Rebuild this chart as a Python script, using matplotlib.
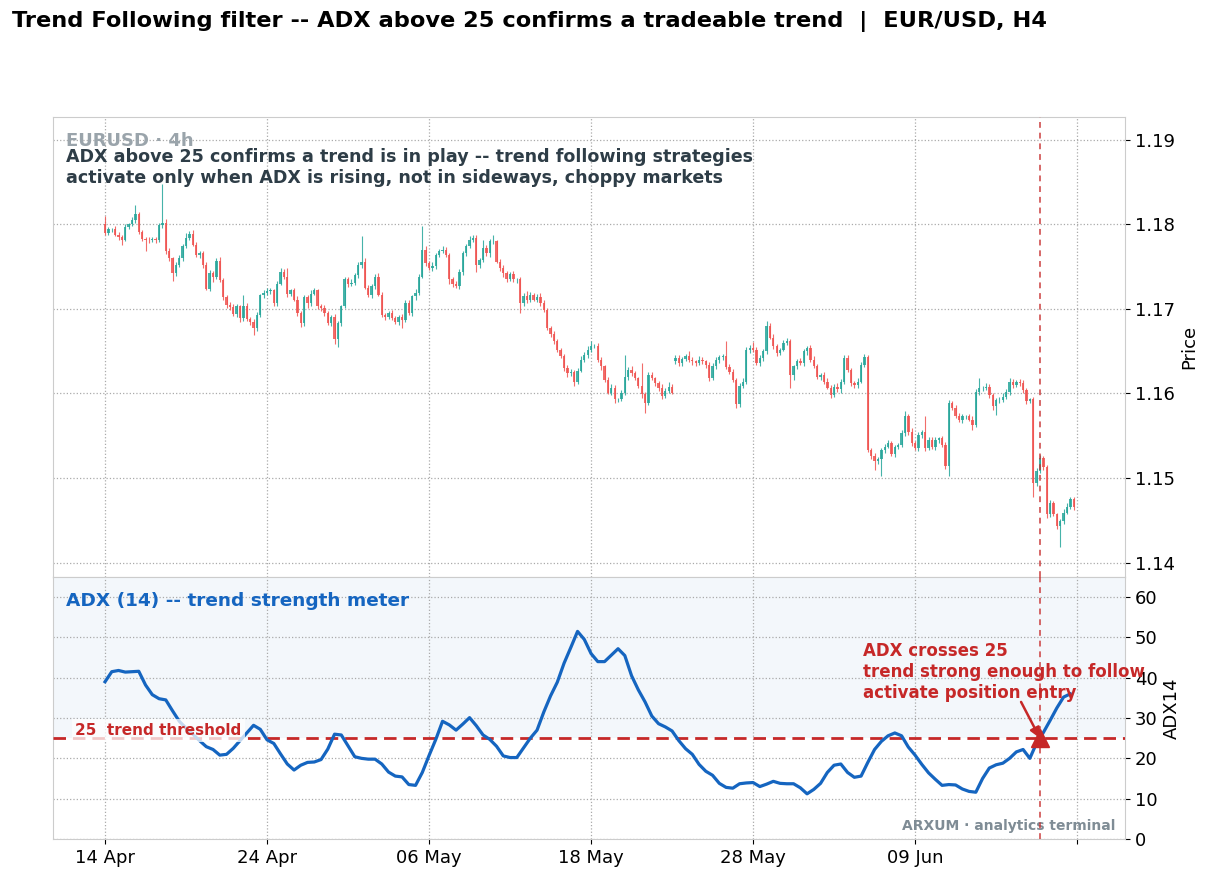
import numpy as np
import matplotlib
matplotlib.use("Agg")
import matplotlib.pyplot as plt

# EUR/USD H4 closes, pips above 1.1000, one per bar
closes = [
    790, 794, 794, 788, 785, 782, 797, 800, 805, 812, 791, 783, 782, 781, 783, 781, 799, 802, 769, 760, 742, 752, 760, 774,
    784, 789, 776, 764, 766, 752, 724, 743, 738, 757, 734, 714, 705, 702, 694, 703, 689, 704, 688, 684, 677, 693, 716, 719,
    721, 722, 707, 730, 744, 738, 718, 722, 711, 695, 683, 714, 707, 718, 722, 703, 701, 695, 683, 690, 665, 683, 703, 735,
    729, 731, 740, 752, 756, 725, 717, 727, 738, 717, 693, 691, 695, 689, 685, 691, 687, 707, 695, 715, 719, 738, 770, 754,
    748, 751, 764, 768, 770, 764, 735, 729, 727, 744, 766, 774, 782, 784, 752, 758, 772, 766, 780, 780, 756, 748, 742, 735,
    741, 735, 735, 707, 715, 711, 717, 711, 714, 707, 699, 677, 670, 662, 652, 644, 630, 624, 626, 614, 627, 640, 646, 652,
    656, 656, 640, 632, 616, 601, 607, 593, 593, 601, 620, 628, 624, 618, 609, 599, 589, 622, 618, 612, 607, 597, 603, 608,
    601, 642, 636, 641, 644, 640, 638, 636, 640, 638, 634, 618, 632, 640, 643, 644, 631, 626, 616, 587, 609, 614, 652, 654,
    652, 636, 642, 650, 680, 666, 656, 648, 652, 660, 662, 622, 632, 638, 636, 650, 654, 640, 632, 620, 622, 614, 607, 598,
    608, 605, 614, 642, 628, 612, 610, 614, 634, 643, 533, 526, 520, 522, 533, 537, 541, 529, 537, 539, 553, 573, 555, 541,
    535, 551, 555, 535, 545, 537, 545, 547, 539, 514, 589, 583, 573, 569, 573, 573, 569, 563, 602, 606, 606, 608, 598, 585,
    592, 592, 596, 602, 614, 610, 614, 612, 604, 591, 593, 494, 508, 524, 513, 457, 470, 457, 443, 449, 459, 466, 475, 466,
]
first_open = 801
gap_opens = {169: 638}  # weekend gap, open is not the previous close

up_wick = [
    9, 3, 2, 4, 3, 2, 3, 2, 4, 11, 3, 2, 2, 3, 2, 2, 3, 46, 4, 3, 2, 3, 4, 3,
    6, 3, 4, 3, 2, 3, 4, 3, 2, 3, 4, 3, 2, 3, 4, 3, 2, 12, 3, 2, 4, 3, 2, 3,
    4, 3, 2, 3, 4, 3, 10, 2, 3, 4, 3, 2, 3, 4, 3, 2, 3, 4, 2, 3, 4, 3, 2, 3,
    3, 4, 2, 3, 30, 4, 3, 2, 3, 4, 3, 2, 3, 4, 3, 2, 3, 4, 3, 2, 4, 3, 28, 4,
    3, 4, 2, 3, 4, 3, 2, 3, 4, 3, 2, 3, 4, 3, 3, 2, 9, 4, 3, 8, 2, 3, 4, 3,
    3, 4, 2, 3, 4, 6, 3, 2, 4, 5, 3, 2, 3, 4, 3, 2, 3, 4, 3, 2, 3, 4, 3, 4,
    6, 3, 4, 3, 2, 3, 4, 3, 2, 3, 26, 3, 4, 3, 2, 27, 3, 4, 3, 2, 3, 4, 3, 5,
    3, 4, 3, 2, 3, 6, 3, 2, 4, 3, 2, 3, 4, 3, 2, 3, 18, 4, 3, 2, 3, 4, 3, 3,
    7, 3, 4, 3, 6, 3, 4, 3, 2, 3, 4, 3, 2, 3, 4, 3, 2, 3, 4, 3, 2, 3, 4, 3,
    3, 4, 3, 4, 3, 2, 3, 4, 3, 4, 2, 3, 4, 3, 2, 3, 4, 3, 2, 3, 4, 6, 3, 4,
    3, 4, 2, 18, 3, 4, 3, 2, 3, 4, 3, 2, 3, 4, 3, 2, 3, 4, 3, 12, 3, 4, 3, 2,
    3, 4, 4, 3, 4, 3, 2, 3, 4, 3, 2, 3, 4, 3, 2, 3, 4, 3, 2, 3, 4, 5, 3, 2,
]
down_wick = [
    3, 2, 3, 2, 4, 6, 2, 3, 2, 3, 2, 3, 14, 3, 2, 3, 2, 3, 4, 3, 9, 3, 2, 3,
    2, 3, 2, 3, 4, 3, 2, 3, 6, 3, 2, 3, 4, 3, 2, 3, 4, 3, 2, 3, 8, 3, 2, 3,
    2, 3, 4, 3, 2, 3, 4, 3, 2, 3, 4, 3, 6, 3, 2, 3, 4, 3, 2, 3, 6, 10, 3, 2,
    3, 2, 3, 4, 3, 2, 3, 4, 3, 2, 3, 4, 3, 2, 3, 4, 10, 3, 2, 3, 4, 3, 2, 3,
    2, 3, 4, 3, 2, 3, 6, 3, 2, 3, 4, 3, 2, 3, 8, 3, 2, 3, 4, 3, 2, 3, 4, 3,
    2, 3, 4, 12, 3, 4, 3, 2, 3, 4, 3, 2, 3, 4, 3, 2, 3, 4, 3, 5, 3, 2, 3, 4,
    3, 2, 3, 4, 3, 2, 3, 4, 3, 2, 3, 4, 3, 2, 3, 4, 12, 3, 2, 3, 4, 3, 2, 3,
    2, 3, 4, 3, 2, 3, 4, 3, 2, 3, 4, 3, 2, 3, 4, 3, 2, 3, 3, 4, 3, 2, 3, 4,
    3, 2, 3, 4, 3, 2, 3, 4, 3, 2, 3, 15, 6, 3, 2, 3, 4, 3, 2, 3, 4, 3, 2, 3,
    2, 3, 4, 3, 2, 3, 4, 3, 2, 3, 2, 3, 10, 3, 20, 3, 2, 3, 4, 3, 2, 3, 4, 3,
    2, 3, 4, 3, 2, 3, 4, 3, 2, 3, 12, 3, 2, 3, 4, 3, 2, 6, 3, 4, 3, 2, 3, 4,
    10, 3, 2, 3, 4, 3, 2, 3, 4, 3, 2, 16, 3, 2, 3, 4, 3, 2, 3, 24, 3, 2, 3, 4,
]

# ADX(14), read every second bar
adx_step = 2
adx_values = [
    39.0, 41.5, 41.8, 41.4, 41.5, 41.6, 38.2, 35.8, 34.8, 34.5, 31.8, 29.2,
    27.5, 26.0, 24.4, 22.9, 22.2, 20.8, 21.0, 22.5, 24.4, 26.3, 28.2, 27.2,
    24.6, 23.7, 21.1, 18.6, 17.1, 18.3, 19.0, 19.1, 19.7, 22.3, 26.0, 25.8,
    23.1, 20.4, 20.0, 19.8, 19.8, 18.6, 16.6, 15.6, 15.4, 13.5, 13.3, 16.5,
    20.7, 24.7, 29.2, 28.3, 27.0, 28.5, 30.1, 28.1, 25.8, 24.7, 23.0, 20.6,
    20.2, 20.2, 22.6, 25.0, 27.0, 31.5, 35.5, 38.9, 43.6, 47.5, 51.5, 49.5,
    46.0, 44.0, 44.0, 45.6, 47.2, 45.5, 40.5, 37.0, 34.0, 30.5, 28.6, 27.8,
    26.8, 24.4, 22.4, 21.0, 18.5, 16.8, 15.8, 13.8, 12.8, 12.6, 13.7, 13.9,
    14.0, 13.0, 13.6, 14.3, 13.8, 13.7, 13.7, 12.7, 11.2, 12.3, 13.8, 16.5,
    18.3, 18.6, 16.5, 15.3, 15.6, 19.0, 22.2, 24.2, 25.6, 26.3, 25.6, 22.8,
    20.8, 18.5, 16.4, 14.8, 13.3, 13.5, 13.4, 12.4, 11.8, 11.6, 15.0, 17.6,
    18.4, 18.8, 20.0, 21.6, 22.2, 20.0, 23.8, 26.4, 29.4, 32.5, 35.2, 36.0,
]

tick_bars = [0, 48, 96, 144, 192, 240, 288]
tick_labels = ["14 Apr", "24 Apr", "06 May", "18 May", "28 May", "09 Jun", ""]
entry_bar = 277
threshold = 25

UP, DOWN = "#26a69a", "#ef5350"
RED = "#c62828"
BLUE = "#1565c0"

c = 1.1 + np.array(closes) / 1e4
o = np.r_[first_open, closes[:-1]].astype(float)
for k, v in gap_opens.items():
    o[k] = v
o = 1.1 + o / 1e4
hi = np.maximum(o, c) + np.array(up_wick) / 1e4
lo = np.minimum(o, c) - np.array(down_wick) / 1e4
x = np.arange(len(c))
rising = c >= o
cols = np.where(rising, UP, DOWN)

fig = plt.figure(figsize=(12.14, 8.81), dpi=100)
ax = fig.add_axes([0.0437, 0.3451, 0.8830, 0.5221])
ax2 = fig.add_axes([0.0437, 0.0477, 0.8830, 0.2974], sharex=ax)

# price panel
ax.vlines(x, lo, hi, colors=cols, lw=0.8, alpha=0.85, zorder=2)
body = np.maximum(np.abs(c - o), 0.00004)
ax.bar(x, body, bottom=np.minimum(o, c), width=0.7, color=cols, alpha=0.85, lw=0, zorder=3)
ax.set_ylim(1.1383, 1.1927)
ax.set_yticks([1.14, 1.15, 1.16, 1.17, 1.18, 1.19])
ax.set_yticklabels([f"{v:.2f}" for v in [1.14, 1.15, 1.16, 1.17, 1.18, 1.19]])
ax.set_ylabel("Price", fontsize=13)
ax.text(0.012, 0.948, "EURUSD · 4h", transform=ax.transAxes, fontsize=13, weight="bold",
        color="#9aa4ab", va="center", ha="left")
ax.text(0.012, 0.890, "ADX above 25 confirms a trend is in play -- trend following strategies\n"
        "activate only when ADX is rising, not in sideways, choppy markets",
        transform=ax.transAxes, fontsize=12.6, weight="bold", color="#2e3d47", va="center", ha="left",
        linespacing=1.25)
plt.setp(ax.get_xticklabels(), visible=False)
ax.tick_params(axis="x", length=0)

# ADX panel
ax2.axhspan(threshold, 65, color=BLUE, alpha=0.05, lw=0, zorder=0)
ax2.plot(np.arange(len(adx_values)) * adx_step, adx_values, color=BLUE, lw=2.3, zorder=4)
ax2.axhline(threshold, color=RED, lw=2, ls=(0, (4.5, 2.5)), zorder=3)
ax2.text(-8.8, threshold + 1.9, "25  trend threshold", fontsize=11, weight="bold", color=RED,
         ha="left", va="center", zorder=5,
         bbox=dict(boxstyle="square,pad=0.25", fc="white", ec="none", alpha=0.75))
ax2.plot([entry_bar], [threshold], marker="^", ms=13, color=RED, zorder=6, lw=0)
ax2.text(224.6, 41.4, "ADX crosses 25\ntrend strong enough to follow\nactivate position entry",
         fontsize=12, weight="bold", color=RED, ha="left", va="center", zorder=6)
ax2.annotate("", xy=(entry_bar, threshold), xytext=(271.4, 34.0),
             arrowprops=dict(arrowstyle="-|>", color=RED, lw=1.8, mutation_scale=15,
                             shrinkA=0, shrinkB=0), zorder=6)
ax2.text(0.9907, 0.05, "ARXUM · analytics terminal", transform=ax2.transAxes, fontsize=10,
         weight="bold", color="#7f8c95", ha="right", va="center")
ax2.text(0.012, 0.908, "ADX (14) -- trend strength meter", transform=ax2.transAxes, fontsize=13.3,
         weight="bold", color=BLUE, ha="left", va="center")
ax2.set_ylim(0, 65)
ax2.set_yticks(range(0, 61, 10))
ax2.set_ylabel("ADX14", fontsize=13)
ax2.set_xticks(tick_bars)
ax2.set_xticklabels(tick_labels)
ax2.set_xlim(-15.4, 302.2)

for a in (ax, ax2):
    a.axvline(entry_bar, color=RED, alpha=0.7, lw=1.4, ls=(0, (3, 2.5)), zorder=5)
    a.grid(True, ls=":", color="#aaaaaa", lw=0.9)
    a.set_axisbelow(True)
    a.yaxis.tick_right()
    a.yaxis.set_label_position("right")
    a.tick_params(labelsize=13)
    for s in a.spines.values():
        s.set_color("#cccccc")

fig.text(12 / 1214, 1 - 22 / 881, "Trend Following filter -- ADX above 25 confirms a tradeable trend  |  EUR/USD, H4",
         fontsize=16.2, weight="bold", ha="left", va="center")

fig.savefig("out.png", dpi=100)
